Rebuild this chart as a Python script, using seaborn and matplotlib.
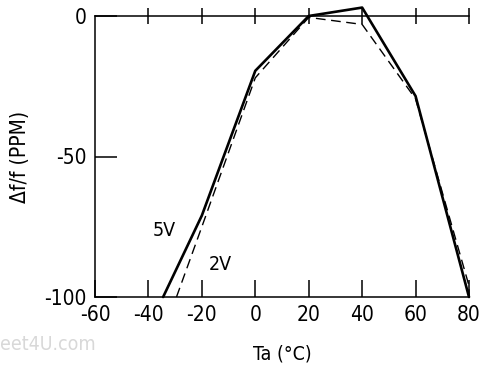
import matplotlib
matplotlib.use("Agg")
import matplotlib.pyplot as plt
import seaborn as sns
import pandas as pd

temp_5v = [-34.5, -20, 0, 20, 40, 60, 80]
ppm_5v = [-100, -71, -19.5, 0, 3, -28.5, -100]
temp_2v = [-29.5, -20, 0, 20, 40, 60, 80, 80]
ppm_2v = [-100, -75, -22, -0.5, -3, -29.5, -96, -100]
x_ticks = [-60, -40, -20, 0, 20, 40, 60, 80]
y_ticks = [-100, -50, 0]

df = pd.concat([
    pd.DataFrame({"Ta": temp_5v, "ppm": ppm_5v, "V": "5V"}),
    pd.DataFrame({"Ta": temp_2v, "ppm": ppm_2v, "V": "2V"}),
], ignore_index=True)

sns.set_style("white")
plt.rcParams['font.family'] = ['DejaVu Sans']
plt.rcParams['font.stretch'] = 'condensed'
plt.rcParams['text.color'] = 'black'
plt.rcParams['axes.labelcolor'] = 'black'
plt.rcParams['xtick.color'] = 'black'
plt.rcParams['ytick.color'] = 'black'

fig = plt.figure(figsize=(4.82, 3.76), dpi=100)
ax = fig.add_axes([95/482, 79/376, 374/482, 281/376])

sns.lineplot(data=df, x="Ta", y="ppm", hue="V", style="V",
             estimator=None, sort=False, palette={"5V": "black", "2V": "black"},
             dashes={"5V": "", "2V": (7, 4)}, legend=False, ax=ax)
lines = ax.get_lines()
for line in lines:
    line.set_clip_on(False)
    if line.get_linestyle() == '-':
        line.set_linewidth(1.9)
    else:
        line.set_linewidth(1.0)

ax.set_xlim(-60, 80)
ax.set_ylim(-100, 0)
ax.set_xticks(x_ticks)
ax.set_yticks(y_ticks)
ax.set_xticklabels([str(t) for t in x_ticks])
ax.set_yticklabels([str(t) for t in y_ticks])

ax.spines["right"].set_visible(False)
for s in ["left", "top", "bottom"]:
    ax.spines[s].set_visible(True)
    ax.spines[s].set_color("black")
    ax.spines[s].set_linewidth(1.1)

ax.tick_params(axis="x", direction="in", length=12, width=1.1, labelsize=15, pad=6, bottom=True)
ax.tick_params(axis="y", direction="in", length=16, width=1.1, labelsize=15, pad=6, left=True)

sec = ax.secondary_xaxis("top")
sec.set_xticks(x_ticks[1:])
sec.tick_params(direction="inout", length=12, width=1.1, labeltop=False, top=True)
sec.spines["top"].set_visible(False)

ax.set_xlabel("Ta (°C)", fontsize=14, labelpad=14)
ax.set_ylabel("Δf/f (PPM)", fontsize=15, labelpad=10)

ax.text(-38.5, -76.5, "5V", fontsize=14, va="center", ha="left")
ax.text(-17.5, -88.5, "2V", fontsize=14, va="center", ha="left")

fig.text(0.0, 32/376, "eet4U.com", color="#d8d8d8", fontsize=14,
         va="center", ha="left")

fig.savefig("out.png", dpi=100)
